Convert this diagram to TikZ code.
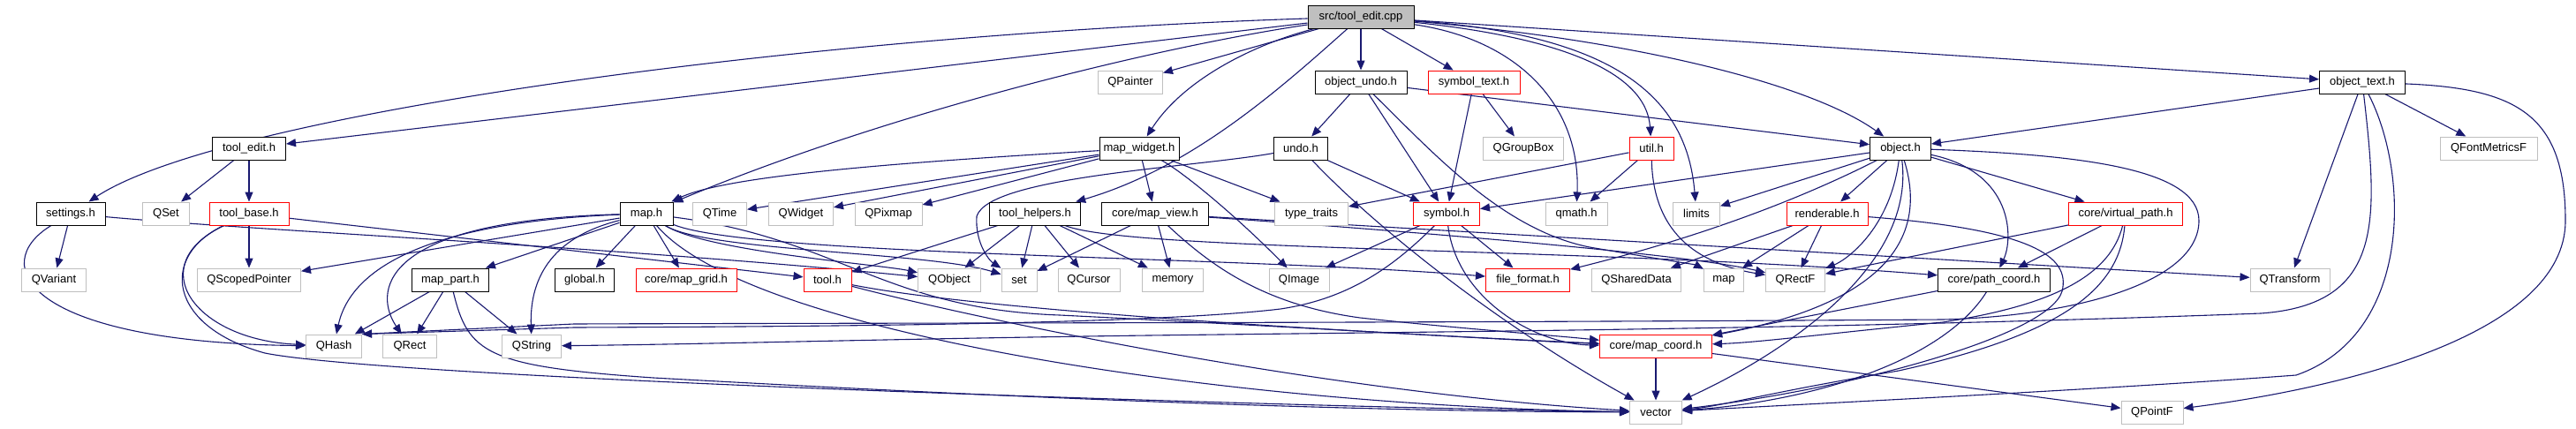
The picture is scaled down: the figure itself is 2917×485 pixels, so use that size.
\documentclass[tikz,border=0pt]{standalone}
\usepackage{fontspec}
\setmainfont{Liberation Sans}
\usetikzlibrary{arrows.meta}
\definecolor{edgec}{HTML}{191970}
\definecolor{greyc}{HTML}{BFBFBF}
\pgfdeclarelayer{bg}
\pgfsetlayers{bg,main}
\begin{document}
\begin{tikzpicture}[x=1pt,y=-1pt,
  nb/.style={draw, fill=white, line width=1pt, minimum height=26pt, inner sep=0pt, font=\fontsize{13}{15}\selectfont},
  blk/.style={nb, draw=black},
  redb/.style={nb, draw=red},
  gry/.style={nb, draw=greyc},
  dep/.style={draw=edgec, line width=1.1pt, -{Triangle[length=11pt,width=9pt]}}]
\useasboundingbox (0,0) rectangle (2917,485);
% row 1
\node[blk,fill=greyc,minimum width=120pt] (src) at (1541,19) {src/tool\_edit.cpp};
% row 2
\node[blk,minimum width=104pt] (oundo) at (1541,93) {object\_undo.h};
\node[redb,minimum width=104pt] (symtext) at (1669,93) {symbol\_text.h};
\node[gry,minimum width=73pt] (qpainter) at (1280,93) {QPainter};
\node[blk,minimum width=97pt] (otext) at (2675,93) {object\_text.h};
% row 3
\node[blk,minimum width=83pt] (tedit) at (282,168) {tool\_edit.h};
\node[blk,minimum width=90pt] (mwidget) at (1290,168) {map\_widget.h};
\node[blk,minimum width=61pt] (undo) at (1473,168) {undo.h};
\node[gry,minimum width=91pt] (qgroupbox) at (1725,168) {QGroupBox};
\node[redb,minimum width=50pt] (util) at (1870,168) {util.h};
\node[blk,minimum width=69pt] (object) at (2152,168) {object.h};
\node[gry,minimum width=110pt] (qfm) at (2818,168) {QFontMetricsF};
% row 4
\node[blk,minimum width=78pt] (settings) at (80,242) {settings.h};
\node[gry,minimum width=53pt] (qset) at (188,242) {QSet};
\node[redb,minimum width=90pt] (tbase) at (282,242) {tool\_base.h};
\node[blk,minimum width=60pt] (map) at (732,242) {map.h};
\node[gry,minimum width=61pt] (qtime) at (815,242) {QTime};
\node[gry,minimum width=73pt] (qwidget) at (907,242) {QWidget};
\node[gry,minimum width=76pt] (qpixmap) at (1006,242) {QPixmap};
\node[blk,minimum width=103pt] (thelpers) at (1172,242) {tool\_helpers.h};
\node[blk,minimum width=121pt] (mview) at (1308,242) {core/map\_view.h};
\node[gry,minimum width=83pt] (ttraits) at (1485,242) {type\_traits};
\node[redb,minimum width=75pt] (symbol) at (1638,242) {symbol.h};
\node[gry,minimum width=70pt] (qmath) at (1785,242) {qmath.h};
\node[gry,minimum width=53pt] (limits) at (1921,242) {limits};
\node[redb,minimum width=92pt] (rend) at (2069,242) {renderable.h};
\node[redb,minimum width=129pt] (vpath) at (2407,242) {core/virtual\_path.h};
% row 5
\node[gry,minimum width=73pt] (qvariant) at (61,317) {QVariant};
\node[gry,minimum width=117pt] (qsp) at (282,317) {QScopedPointer};
\node[blk,minimum width=87pt] (mpart) at (510,317) {map\_part.h};
\node[blk,minimum width=67pt] (global) at (662,317) {global.h};
\node[redb,minimum width=114pt] (mgrid) at (777,317) {core/map\_grid.h};
\node[redb,minimum width=54pt] (tool) at (937,317) {tool.h};
\node[gry,minimum width=71pt] (qobject) at (1075,317) {QObject};
\node[gry,minimum width=40pt] (set) at (1154,317) {set};
\node[gry,minimum width=70pt] (qcursor) at (1233,317) {QCursor};
\node[gry,minimum width=69pt] (memory) at (1328,317) {memory};
\node[gry,minimum width=68pt] (qimage) at (1471,317) {QImage};
\node[redb,minimum width=95pt] (ffmt) at (1730,317) {file\_format.h};
\node[gry,minimum width=101pt] (qshared) at (1853,317) {QSharedData};
\node[gry,minimum width=45pt] (stdmap) at (1952,317) {map};
\node[gry,minimum width=67pt] (qrectf) at (2033,317) {QRectF};
\node[blk,minimum width=127pt] (pcoord) at (2258,317) {core/path\_coord.h};
\node[gry,minimum width=90pt] (qtransform) at (2593,317) {QTransform};
% row 6
\node[gry,minimum width=63pt] (qhash) at (378,392) {QHash};
\node[gry,minimum width=61pt] (qrect) at (464,392) {QRect};
\node[gry,minimum width=67pt] (qstring) at (602,392) {QString};
\node[redb,minimum width=127pt] (mcoord) at (1875,392) {core/map\_coord.h};
% row 7
\node[gry,minimum width=59pt] (vector) at (1875,467) {vector};
\node[gry,minimum width=70pt] (qpointf) at (2437,467) {QPointF};

\begin{pgfonlayer}{bg}
\path[fill=white] (0,0) rectangle (2917,485);
% edges from src
\draw[dep] (src) .. controls (900,40) and (250,130) .. (settings);
\draw[dep] (src) -- (tedit);
\draw[dep] (src) .. controls (1300,55) and (1000,130) .. (map);
\draw[dep] (src) -- (qpainter);
\draw[dep] (src) .. controls (1420,50) and (1340,90) .. (mwidget);
\draw[dep] (src) .. controls (1450,100) and (1350,190) .. (thelpers);
\draw[dep] (src) -- (oundo);
\draw[dep] (src) -- (symtext);
\draw[dep] (src) .. controls (1720,45) and (1790,120) .. (qmath);
\draw[dep] (src) .. controls (1790,45) and (1865,90) .. (util);
\draw[dep] (src) .. controls (1830,40) and (1910,110) .. (limits);
\draw[dep] (src) .. controls (1850,45) and (2050,95) .. (object);
\draw[dep] (src) -- (otext);
% object_undo
\draw[dep] (oundo) -- (undo);
\draw[dep] (oundo) -- (symbol);
\draw[dep] (oundo) -- (object);
\draw[dep] (oundo) .. controls (1620,170) and (1700,260) .. (1800,280) .. controls (1870,292) and (1920,300) .. (stdmap);
% symbol_text
\draw[dep] (symtext) -- (qgroupbox);
\draw[dep] (symtext) -- (symbol);
% tool_edit
\draw[dep] (tedit) -- (qset);
\draw[dep] (tedit) -- (tbase);
% tool_base
\draw[dep] (tbase) -- (qsp);
\draw[dep] (tbase) .. controls (160,300) and (220,385) .. (qhash);
\draw[dep] (tbase) .. controls (180,290) and (190,370) .. (300,400) .. controls (450,430) and (1500,462) .. (vector);
\draw[dep] (tbase) -- (tool);
% settings
\draw[dep] (settings) -- (qvariant);
\draw[dep] (settings) .. controls (-15,300) and (30,388) .. (qhash);
\draw[dep] (settings) .. controls (300,262) and (700,280) .. (qobject);
% map
\draw[dep] (map) -- (qsp);
\draw[dep] (map) -- (mpart);
\draw[dep] (map) -- (global);
\draw[dep] (map) -- (mgrid);
\draw[dep] (map) .. controls (520,250) and (400,290) .. (qhash);
\draw[dep] (map) .. controls (420,250) and (425,335) .. (qrect);
\draw[dep] (map) .. controls (620,270) and (600,320) .. (qstring);
\draw[dep] (map) .. controls (800,285) and (1000,300) .. (qobject);
\draw[dep] (map) .. controls (800,285) and (1050,285) .. (set);
\draw[dep] (map) .. controls (850,380) and (1400,460) .. (vector);
\draw[dep] (map) .. controls (950,270) and (1000,350) .. (1200,357) .. controls (1500,372) and (1700,385) .. (mcoord);
\draw[dep] (map) .. controls (850,290) and (1400,290) .. (ffmt);
% map_part
\draw[dep] (mpart) -- (qhash);
\draw[dep] (mpart) -- (qrect);
\draw[dep] (mpart) -- (qstring);
\draw[dep] (mpart) .. controls (530,400) and (550,415) .. (740,428) .. controls (1100,448) and (1500,466) .. (vector);
% map_widget
\draw[dep] (mwidget) .. controls (1000,185) and (820,200) .. (map);
\draw[dep] (mwidget) -- (qtime);
\draw[dep] (mwidget) -- (qwidget);
\draw[dep] (mwidget) -- (qpixmap);
\draw[dep] (mwidget) -- (mview);
\draw[dep] (mwidget) -- (ttraits);
\draw[dep] (mwidget) .. controls (1340,195) and (1400,245) .. (qimage);
% undo
\draw[dep] (undo) .. controls (1350,190) and (1120,200) .. (1106,245) .. controls (1104,275) and (1120,295) .. (set);
\draw[dep] (undo) -- (symbol);
\draw[dep] (undo) .. controls (1560,260) and (1700,370) .. (vector);
% util
\draw[dep] (util) -- (ttraits);
\draw[dep] (util) -- (qmath);
\draw[dep] (util) .. controls (1872,270) and (1930,300) .. (qrectf);
% symbol
\draw[dep] (symbol) -- (qimage);
\draw[dep] (symbol) -- (ffmt);
\draw[dep] (symbol) .. controls (1580,300) and (1530,338) .. (1450,350) .. controls (1300,368) and (900,370) .. (650,371) -- (qhash.north east);
\draw[dep] (symbol) .. controls (1650,340) and (1740,390) .. (mcoord);
% object
\draw[dep] (object) -- (symbol);
\draw[dep] (object) -- (limits);
\draw[dep] (object) -- (rend);
\draw[dep] (object) -- (vpath);
\draw[dep] (object) .. controls (2020,235) and (1900,275) .. (ffmt);
\draw[dep] (object) .. controls (2140,260) and (2090,295) .. (qrectf);
\draw[dep] (object) .. controls (2170,310) and (2000,410) .. (vector);
\draw[dep] (object) .. controls (2190,290) and (2100,350) .. (mcoord);
\draw[dep] (object) .. controls (2280,195) and (2280,270) .. (pcoord);
\draw[dep] (object) .. controls (2350,175) and (2490,190) .. (2490,250) .. controls (2490,320) and (2350,358) .. (2200,362) .. controls (1600,366) and (900,366) .. (650,367) -- (qhash.north east);
% renderable
\draw[dep] (rend) -- (qshared);
\draw[dep] (rend) -- (stdmap);
\draw[dep] (rend) -- (qrectf);
\draw[dep] (rend) .. controls (2300,260) and (2345,290) .. (2335,330) .. controls (2320,380) and (2100,440) .. (vector);
% virtual_path
\draw[dep] (vpath) -- (qrectf);
\draw[dep] (vpath) -- (pcoord);
\draw[dep] (vpath) .. controls (2390,310) and (2330,345) .. (2200,365) .. controls (2050,380) and (1990,388) .. (mcoord);
\draw[dep] (vpath) .. controls (2400,330) and (2330,380) .. (2150,420) .. controls (2000,445) and (1950,460) .. (vector);
% path_coord
\draw[dep] (pcoord) -- (mcoord);
\draw[dep] (pcoord) .. controls (2200,410) and (2050,455) .. (vector);
% map_coord
\draw[dep] (mcoord) -- (vector);
\draw[dep] (mcoord) -- (qpointf);
% object_text
\draw[dep] (otext) -- (object);
\draw[dep] (otext) -- (qfm);
\draw[dep] (otext) -- (qtransform);
\draw[dep] (otext) .. controls (2850,100) and (2905,130) .. (2905,250) .. controls (2905,380) and (2650,440) .. (qpointf);
\draw[dep] (otext) .. controls (2730,200) and (2730,380) .. (2600,425) .. controls (2400,440) and (2100,455) .. (vector);
\draw[dep] (otext) .. controls (2693,250) and (2700,345) .. (2560,355) .. controls (2100,372) and (1700,375) .. (1300,380) .. controls (1000,384) and (800,390) .. (qstring);
% tool
\draw[dep] (tool) .. controls (1100,350) and (1500,375) .. (mcoord);
\draw[dep] (tool) .. controls (1100,360) and (1500,445) .. (vector);
% tool_helpers
\draw[dep] (thelpers) -- (tool);
\draw[dep] (thelpers) -- (qobject);
\draw[dep] (thelpers) -- (set);
\draw[dep] (thelpers) -- (qcursor);
\draw[dep] (thelpers) -- (memory);
\draw[dep] (thelpers) .. controls (1280,285) and (1800,280) .. (pcoord);
% map_view
\draw[dep] (mview) -- (set);
\draw[dep] (mview) -- (memory);
\draw[dep] (mview) -- (qtransform);
\draw[dep] (mview) .. controls (1500,255) and (1900,285) .. (qrectf);
\draw[dep] (mview) .. controls (1370,300) and (1430,345) .. (1540,360) .. controls (1650,372) and (1760,380) .. (mcoord);
\end{pgfonlayer}
\end{tikzpicture}
\end{document}
